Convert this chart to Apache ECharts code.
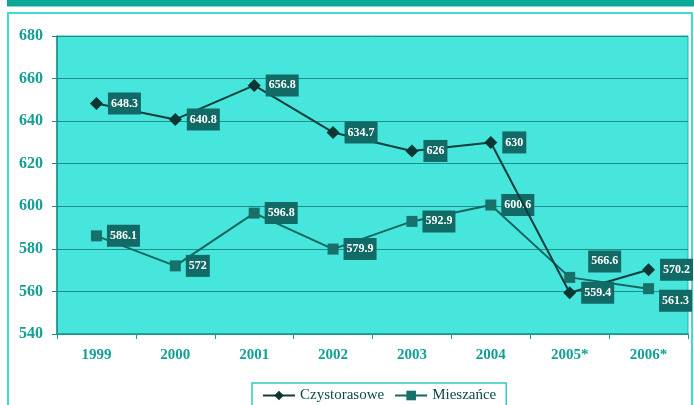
<!DOCTYPE html>
<html><head><meta charset="utf-8">
<script src="https://cdn.jsdelivr.net/npm/echarts@6/dist/echarts.min.js"></script>
<style>html,body{margin:0;padding:0;background:#fff}#c{width:694px;height:405px}</style>
</head><body><div id="c"></div>
<script>
const years = ['1999','2000','2001','2002','2003','2004','2005*','2006*'];
const czystorasowe = [648.3, 640.8, 656.8, 634.7, 626, 630, 559.4, 570.2];
const mieszance = [586.1, 572, 596.8, 579.9, 592.9, 600.6, 566.6, 561.3];
const yTicks = [540, 560, 580, 600, 620, 640, 660, 680];

const chart = echarts.init(document.getElementById('c'));
const font = '"Liberation Serif", "DejaVu Serif", serif';
const labelBase = {
  show: true, position: 'right', distance: 5,
  color: '#ffffff', fontFamily: font, fontWeight: 'bold', fontSize: 12,
  backgroundColor: '#116a65', padding: [5, 3, 5, 3]
};
const mData = mieszance.map((v, i) => {
  if (i === 6) return {value: v, label: {offset: [8, -16]}};
  if (i === 7) return {value: v, label: {offset: [0, 12]}};
  return v;
});
const cData = czystorasowe.slice();
chart.setOption({
  animation: false,
  backgroundColor: '#ffffff',
  graphic: [
    {type: 'rect', shape: {x: 7, y: 0, width: 687, height: 6.5}, style: {fill: '#0aa697'}, z: 0},
    {type: 'rect', shape: {x: 8, y: 13, width: 684, height: 400}, style: {fill: 'none', stroke: '#3fdcd3', lineWidth: 2}, z: 0}
  ],
  grid: {left: 57, right: 6, top: 36, bottom: 71, show: true, backgroundColor: '#47e6dd', borderColor: '#22b5ad', borderWidth: 1},
  legend: {
    bottom: -8, left: 252, width: 250,
    data: ['Czystorasowe', 'Mieszańce'],
    borderColor: '#2fc9c0', borderWidth: 1.5, padding: [5, 10, 10, 10],
    itemWidth: 32, itemHeight: 12, itemGap: 10,
    textStyle: {fontFamily: font, fontSize: 15, color: '#0b4a46'}
  },
  xAxis: {
    type: 'category', data: years, boundaryGap: true,
    axisLine: {lineStyle: {color: '#1a9c94', width: 1.5}},
    axisTick: {show: true, length: 5, lineStyle: {color: '#1a9c94'}},
    axisLabel: {color: '#12a096', fontFamily: font, fontWeight: 'bold', fontSize: 15, margin: 14}
  },
  yAxis: {
    type: 'value', min: 540, max: 680, interval: 20,
    axisLine: {show: true, lineStyle: {color: '#1a8c86', width: 1.5}},
    axisTick: {show: true, length: 5, lineStyle: {color: '#1a8c86'}},
    axisLabel: {color: '#12a096', fontFamily: font, fontWeight: 'bold', fontSize: 16, margin: 14,
      formatter: v => yTicks.includes(v) ? String(v) : ''},
    splitLine: {lineStyle: {color: '#1b8f88', width: 1.2}}
  },
  series: [
    {name: 'Czystorasowe', type: 'line', data: cData, symbol: 'diamond', symbolSize: 13,
      lineStyle: {color: '#0d3e3b', width: 2}, itemStyle: {color: '#0a3633'},
      label: labelBase, z: 3},
    {name: 'Mieszańce', type: 'line', data: mData, symbol: 'rect', symbolSize: 11,
      lineStyle: {color: '#146660', width: 2}, itemStyle: {color: '#18706a'},
      label: labelBase, z: 2}
  ]
});
</script></body></html>
